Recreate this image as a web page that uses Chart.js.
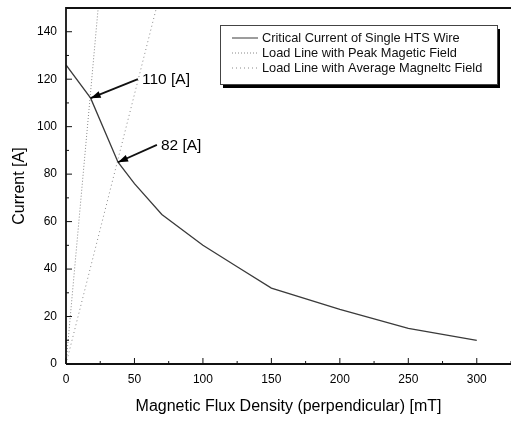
<!DOCTYPE html>
<html>
<head>
<meta charset="utf-8">
<script src="https://cdn.jsdelivr.net/npm/chart.js@4.4.1/dist/chart.umd.min.js"></script>
<style>
  html, body { margin: 0; padding: 0; background: #fff; overflow: hidden; }
  #wrap { width: 511px; height: 423px; }
</style>
</head>
<body>
<div id="wrap"><canvas id="chart" width="511" height="423"></canvas></div>
<script>
// Critical current curve
const fieldMT = [0, 18, 38, 50, 70, 100, 125, 150, 200, 250, 300];
const currentA = [126, 112, 85, 76, 63, 50, 41, 32, 23, 15, 10];

// Load lines (from origin to top of plot)
const peakLineX = [0, 23.5];
const peakLineY = [0, 150];
const avgLineX = [0, 66];
const avgLineY = [0, 150];

// Annotations: label, text anchor, arrow tail, arrow head (data coords)
const noteLabels = ['110 [A]', '82 [A]'];
const noteTextX = [55.5, 69.3];
const noteTextY = [120, 92.3];
const noteTailX = [52.5, 66.4];
const noteTailY = [120, 92.3];
const noteHeadX = [18, 38];
const noteHeadY = [112, 85];

const legendLabels = [
    'Critical Current of Single HTS Wire',
    'Load Line with Peak Magetic Field',
    'Load Line with Average Magneltc Field'
];

const xTickValues = [0, 50, 100, 150, 200, 250, 300];
const yTickValues = [0, 20, 40, 60, 80, 100, 120, 140];

function toPoints(xs, ys) {
    return xs.map((x, i) => ({ x: x, y: ys[i] }));
}

const FONT = '"Liberation Sans", Arial, sans-serif';

const decorPlugin = {
    id: 'decor',
    afterDraw(chart) {
        const ctx = chart.ctx;
        const xs = chart.scales.x;
        const ys = chart.scales.y;
        const area = chart.chartArea;
        ctx.save();

        // frame top + axes
        ctx.strokeStyle = '#111';
        ctx.lineWidth = 1.8;
        ctx.beginPath();
        ctx.moveTo(area.left, area.bottom);
        ctx.lineTo(area.left, area.top);
        ctx.lineTo(area.right, area.top);
        ctx.moveTo(area.left, area.bottom);
        ctx.lineTo(area.right, area.bottom);
        ctx.stroke();

        // inward ticks
        ctx.lineWidth = 1;
        ctx.beginPath();
        for (let v = 0; v <= 325; v += 25) {
            const px = xs.getPixelForValue(v);
            const len = v % 50 === 0 ? 6 : 3;
            ctx.moveTo(px, area.bottom);
            ctx.lineTo(px, area.bottom - len);
        }
        for (let v = 0; v <= 150; v += 10) {
            const py = ys.getPixelForValue(v);
            const len = v % 20 === 0 ? 6 : 3;
            ctx.moveTo(area.left, py);
            ctx.lineTo(area.left + len, py);
        }
        ctx.stroke();

        // annotations with arrows
        ctx.font = '15.5px ' + FONT;
        ctx.fillStyle = '#000';
        ctx.textBaseline = 'middle';
        ctx.textAlign = 'left';
        noteLabels.forEach((label, i) => {
            const tx = xs.getPixelForValue(noteTextX[i]);
            const ty = ys.getPixelForValue(noteTextY[i]);
            ctx.fillText(label, tx, ty + 1);
            const x0 = xs.getPixelForValue(noteTailX[i]);
            const y0 = ys.getPixelForValue(noteTailY[i]);
            const x1 = xs.getPixelForValue(noteHeadX[i]);
            const y1 = ys.getPixelForValue(noteHeadY[i]);
            ctx.strokeStyle = '#111';
            ctx.lineWidth = 1.8;
            ctx.beginPath();
            ctx.moveTo(x0, y0);
            ctx.lineTo(x1, y1);
            ctx.stroke();
            const ang = Math.atan2(y1 - y0, x1 - x0);
            const hl = 10, hw = 3.5;
            ctx.beginPath();
            ctx.moveTo(x1, y1);
            ctx.lineTo(x1 - hl * Math.cos(ang) + hw * Math.sin(ang), y1 - hl * Math.sin(ang) - hw * Math.cos(ang));
            ctx.lineTo(x1 - hl * Math.cos(ang) - hw * Math.sin(ang), y1 - hl * Math.sin(ang) + hw * Math.cos(ang));
            ctx.closePath();
            ctx.fill();
        });

        // legend box with shadow
        const lx = 220, ly = 25, lw = 277, lh = 59;
        ctx.fillStyle = '#000';
        ctx.fillRect(lx + 3, ly + 4, lw, lh);
        ctx.fillStyle = '#fff';
        ctx.fillRect(lx, ly, lw, lh);
        ctx.strokeStyle = '#444';
        ctx.lineWidth = 1;
        ctx.strokeRect(lx + 0.5, ly + 0.5, lw, lh);

        const styles = chart.data.datasets.map(d => ({ color: d.borderColor, dash: d.borderDash || [] }));
        ctx.font = '12.8px ' + FONT;
        ctx.textBaseline = 'middle';
        legendLabels.forEach((label, i) => {
            const yy = ly + 13 + i * 15;
            ctx.strokeStyle = styles[i].color;
            ctx.lineWidth = 1;
            ctx.setLineDash(styles[i].dash);
            ctx.beginPath();
            ctx.moveTo(lx + 12, yy);
            ctx.lineTo(lx + 38, yy);
            ctx.stroke();
            ctx.setLineDash([]);
            ctx.fillStyle = '#111';
            ctx.fillText(label, lx + 42, yy);
        });
        ctx.restore();
    }
};

new Chart(document.getElementById('chart'), {
    type: 'line',
    data: {
        datasets: [
            {
                label: legendLabels[0],
                data: toPoints(fieldMT, currentA),
                borderColor: '#3a3a3a',
                borderWidth: 1.3,
                pointRadius: 0,
                tension: 0
            },
            {
                label: legendLabels[1],
                data: toPoints(peakLineX, peakLineY),
                borderColor: '#888',
                borderWidth: 1,
                borderDash: [1, 2],
                pointRadius: 0
            },
            {
                label: legendLabels[2],
                data: toPoints(avgLineX, avgLineY),
                borderColor: '#888',
                borderWidth: 1,
                borderDash: [1, 3],
                pointRadius: 0
            }
        ]
    },
    options: {
        responsive: false,
        animation: false,
        layout: { padding: { top: 8, right: 0, left: 0, bottom: 0 } },
        plugins: {
            legend: { display: false },
            tooltip: { enabled: false }
        },
        scales: {
            x: {
                type: 'linear',
                min: 0,
                max: 325,
                afterBuildTicks: s => { s.ticks = xTickValues.map(v => ({ value: v })); },
                afterFit: s => { s.height = 59; s.paddingLeft = 0; s.paddingRight = 0; },
                grid: { display: false, drawTicks: false },
                border: { display: false },
                ticks: {
                    padding: 8,
                    color: '#000',
                    font: { family: FONT, size: 12 }
                },
                title: {
                    display: true,
                    text: 'Magnetic Flux Density (perpendicular) [mT]',
                    color: '#000',
                    font: { family: FONT, size: 16 },
                    padding: { top: 4, bottom: 7 }
                }
            },
            y: {
                type: 'linear',
                min: 0,
                max: 150,
                afterBuildTicks: s => { s.ticks = yTickValues.map(v => ({ value: v })); },
                afterFit: s => { s.width = 66; s.paddingTop = 0; s.paddingBottom = 0; },
                grid: { display: false, drawTicks: false },
                border: { display: false },
                ticks: {
                    padding: 9,
                    color: '#000',
                    font: { family: FONT, size: 12 }
                },
                title: {
                    display: true,
                    text: 'Current [A]',
                    color: '#000',
                    font: { family: FONT, size: 16 },
                    padding: { top: 10, bottom: 4 }
                }
            }
        }
    },
    plugins: [decorPlugin]
});
</script>
</body>
</html>
